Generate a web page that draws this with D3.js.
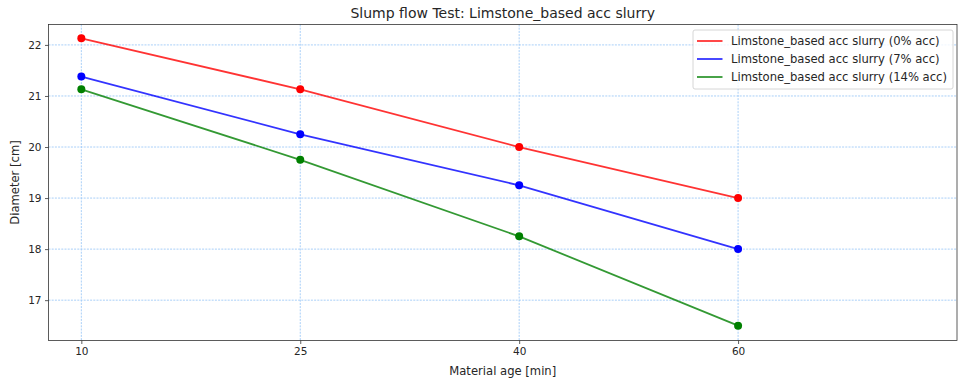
<!DOCTYPE html>
<html>
<head>
<meta charset="utf-8">
<script src="https://cdn.jsdelivr.net/npm/d3@7"></script>
<style>
  html, body { margin: 0; padding: 0; background: #fff; }
  svg { display: block; font-family: "DejaVu Sans", sans-serif; }
</style>
</head>
<body>
<svg id="chart" width="958" height="382"></svg>
<script>
// Material ages (categorical x positions)
const ages = ["10", "25", "40", "60"];
// Slump flow diameters [cm] per accelerator dosage
const dia0 = [22.13, 21.13, 20.0, 19.0];
const dia7 = [21.38, 20.25, 19.25, 18.0];
const dia14 = [21.13, 19.75, 18.25, 16.5];
const seriesNames = [
  "Limstone_based acc slurry (0% acc)",
  "Limstone_based acc slurry (7% acc)",
  "Limstone_based acc slurry (14% acc)"
];
const seriesColors = ["#ff0000", "#0000ff", "#008000"];
const yTicks = [17, 18, 19, 20, 21, 22];

const series = [dia0, dia7, dia14].map((v, i) => ({ name: seriesNames[i], color: seriesColors[i], values: v }));

const svg = d3.select("#chart");
const plotL = 48.5, plotR = 957, plotT = 24.5, plotB = 340.5;

const x = d3.scaleLinear().domain([-0.15, 4.0]).range([plotL, plotR]);
const y = d3.scaleLinear().domain([16.21, 22.40]).range([plotB, plotT]);

// grid
const gridColor = "#9fcaf7";
const grid = svg.append("g");
ages.forEach((a, i) => {
  grid.append("line")
    .attr("x1", x(i)).attr("x2", x(i)).attr("y1", plotT).attr("y2", plotB)
    .attr("stroke", gridColor).attr("stroke-width", 0.9).attr("stroke-dasharray", "2,1.2");
});
yTicks.forEach(t => {
  grid.append("line")
    .attr("x1", plotL).attr("x2", plotR).attr("y1", y(t)).attr("y2", y(t))
    .attr("stroke", gridColor).attr("stroke-width", 0.9).attr("stroke-dasharray", "2,1.2");
});

// axes
const xAxis = d3.axisBottom(x).tickValues(d3.range(ages.length)).tickFormat(i => ages[i]).tickSize(3.5).tickPadding(3.5);
const yAxis = d3.axisLeft(y).tickValues(yTicks).tickFormat(d3.format("d")).tickSize(3.5).tickPadding(3.5);

const gx = svg.append("g").attr("transform", `translate(0,${plotB})`).call(xAxis);
const gy = svg.append("g").attr("transform", `translate(${plotL},0)`).call(yAxis);
[gx, gy].forEach(g => {
  g.select(".domain").remove();
  g.selectAll(".tick line").attr("stroke", "#333").attr("stroke-width", 0.8);
  g.selectAll(".tick text").attr("fill", "#262626").style("font-size", "10.5px").style("font-family", "DejaVu Sans");
});

// lines and markers
const line = d3.line().x((d, i) => x(i)).y(d => y(d));
series.forEach(s => {
  svg.append("path").datum(s.values)
    .attr("d", line).attr("fill", "none")
    .attr("stroke", s.color).attr("stroke-width", 1.8).attr("stroke-opacity", 0.8);
  svg.selectAll(null).data(s.values).enter().append("circle")
    .attr("cx", (d, i) => x(i)).attr("cy", d => y(d)).attr("r", 4)
    .attr("fill", s.color);
});

// frame
svg.append("rect").attr("x", plotL).attr("y", plotT).attr("width", plotR - plotL).attr("height", plotB - plotT)
  .attr("fill", "none").attr("stroke", "#333").attr("stroke-width", 0.8);

// title and labels
svg.append("text").attr("x", (plotL + plotR) / 2).attr("y", 17.5).attr("text-anchor", "middle")
  .style("font-size", "14px").attr("fill", "#262626").text("Slump flow Test: Limstone_based acc slurry");
svg.append("text").attr("x", (plotL + plotR) / 2).attr("y", 374.5).attr("text-anchor", "middle")
  .style("font-size", "11.6px").attr("fill", "#262626").text("Material age [min]");
svg.append("text").attr("transform", `translate(18.5,${(plotT + plotB) / 2}) rotate(-90)`).attr("text-anchor", "middle")
  .style("font-size", "11.6px").attr("fill", "#262626").text("Diameter [cm]");

// legend
const lg = svg.append("g").attr("transform", "translate(693,30)");
lg.append("rect").attr("width", 260).attr("height", 59).attr("rx", 2)
  .attr("fill", "#fff").attr("fill-opacity", 0.8).attr("stroke", "#ccc").attr("stroke-width", 0.8);
series.forEach((s, i) => {
  const cy = 11 + i * 18;
  lg.append("line").attr("x1", 4).attr("x2", 29.5).attr("y1", cy).attr("y2", cy)
    .attr("stroke", s.color).attr("stroke-width", 1.8).attr("stroke-opacity", 0.8);
  lg.append("text").attr("x", 38).attr("y", cy + 4)
    .style("font-size", "11.6px").attr("fill", "#262626").text(s.name);
});
</script>
</body>
</html>
